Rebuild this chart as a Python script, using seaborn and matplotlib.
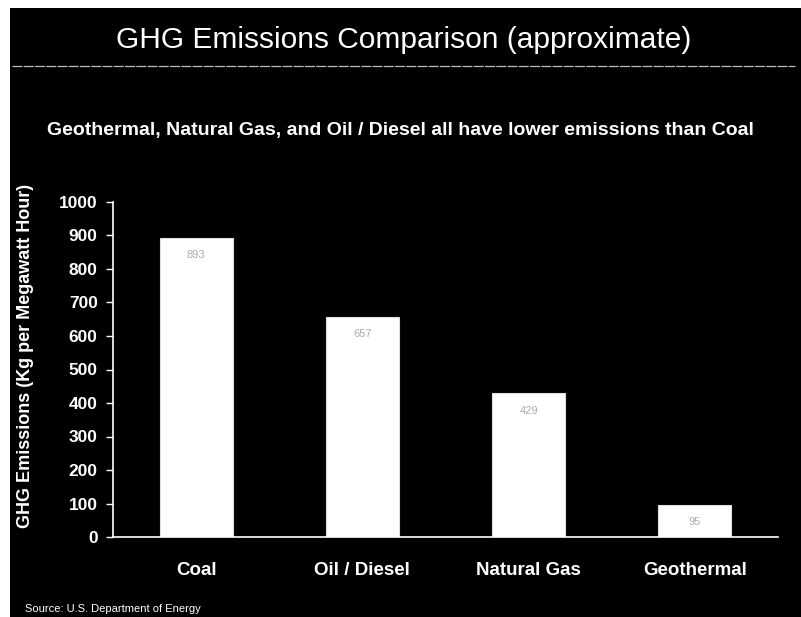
import matplotlib
matplotlib.use("Agg")
import matplotlib.pyplot as plt
from matplotlib.patches import Rectangle
from matplotlib.lines import Line2D
import seaborn as sns
import pandas as pd

categories = ["Coal", "Oil / Diesel", "Natural Gas", "Geothermal"]
emissions = [893, 657, 429, 95]
yticks = [0, 100, 200, 300, 400, 500, 600, 700, 800, 900, 1000]

title = "GHG Emissions Comparison (approximate)"
subtitle = "Geothermal, Natural Gas, and Oil / Diesel all have lower emissions than Coal"
ylabel = "GHG Emissions (Kg per Megawatt Hour)"
source = "Source: U.S. Department of Energy"

sns.set_theme(style="dark")
plt.rcParams['font.family'] = ['Liberation Sans', 'DejaVu Sans']

df = pd.DataFrame({"category": categories, "value": emissions})

W, H = 801, 617
fig = plt.figure(figsize=(W / 100, H / 100), dpi=100, facecolor="white")
# black slide background with a thin white margin at top/left
fig.patches.append(Rectangle((10 / W, 0), 1 - 10 / W, 1 - 8 / H, transform=fig.transFigure,
                             facecolor="black", edgecolor="none", zorder=-10))
fig.lines.append(Line2D([12 / W, 795 / W], [1 - 66 / H, 1 - 66 / H], transform=fig.transFigure,
                        color="#bbbbbb", linewidth=0.9, linestyle=(0, (8, 1))))

ax = fig.add_axes([113 / W, 1 - 537 / H, 665 / W, 335 / H])
ax.set_facecolor("black")
sns.barplot(data=df, x="category", y="value", color="white", width=0.44,
            saturation=1, ax=ax, edgecolor="#dddddd", linewidth=0.8)
ax.set_xlim(-0.5, 3.5)
ax.set_ylim(0, 1000)
ax.set_yticks(yticks)
ax.set_yticklabels([str(t) for t in yticks], color="white", fontsize=12.5, fontweight="bold")
ax.tick_params(axis="y", left=True, length=5, width=1, color="white", pad=6, direction="out")
ax.tick_params(axis="x", bottom=False, pad=12)
ax.set_xticks(range(len(categories)))
ax.set_xticklabels(categories, color="white", fontsize=13.5, fontweight="bold")
ax.set_xlabel("")
ax.set_ylabel(ylabel, color="white", fontsize=13, fontweight="bold")
ax.yaxis.label.set_va("center")
ax.yaxis.set_label_coords(-0.131, 0.54)
ax.grid(False)
for s in ["top", "right"]:
    ax.spines[s].set_visible(False)
ax.spines["left"].set_color("white")
ax.spines["bottom"].set_color("white")
ax.spines["left"].set_linewidth(1.2)
ax.spines["bottom"].set_linewidth(1.2)

for cont in ax.containers:
    ax.bar_label(cont, labels=[str(v) for v in emissions], label_type="edge",
                 padding=-16, color="#aaaaaa", fontsize=8)

fig.text(404 / W, 1 - 40 / H, title, color="white", fontsize=21.5, ha="center", va="center")
fig.text(400 / W, 1 - 131 / H, subtitle, color="white", fontsize=14, fontweight="bold",
         ha="center", va="center")
fig.text(25 / W, 1 - 609 / H, source, color="white", fontsize=8, ha="left", va="center")

fig.savefig("out.png", dpi=100, facecolor="white")
